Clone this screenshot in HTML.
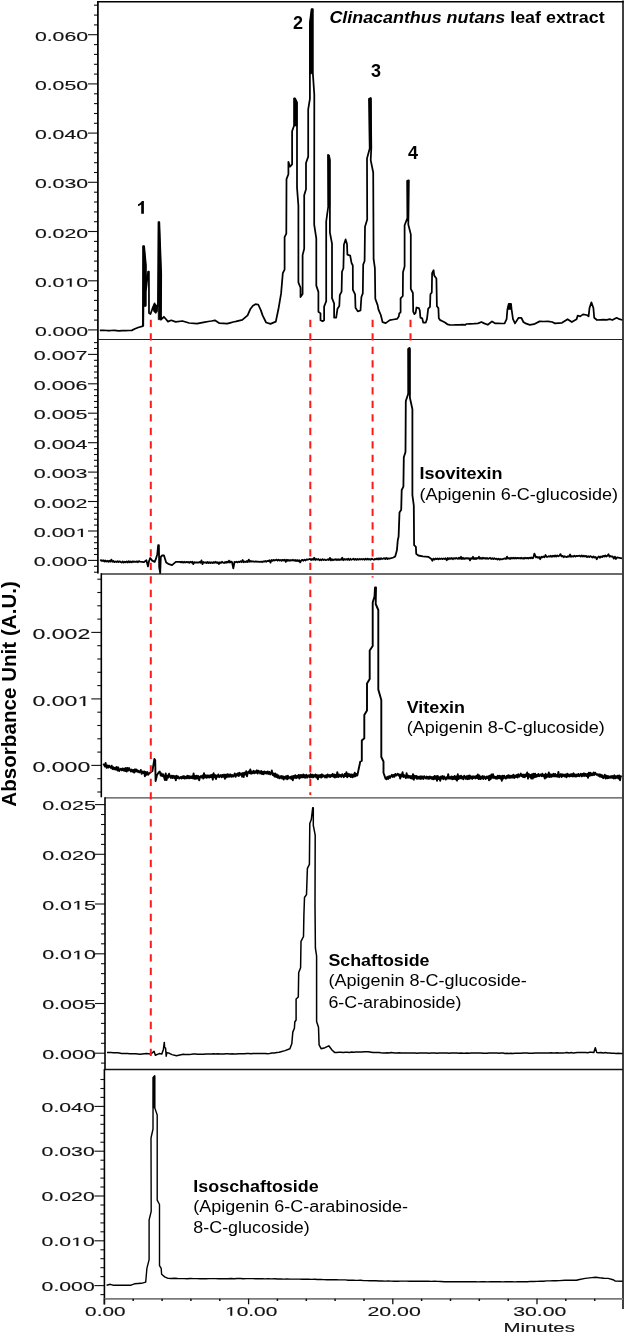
<!DOCTYPE html>
<html><head><meta charset="utf-8"><style>
html,body{margin:0;padding:0;background:#fff;overflow:hidden;width:625px;height:1333px;}
svg{display:block;will-change:transform;}
text{font-family:"Liberation Sans",sans-serif;}
</style></head><body>
<svg width="625" height="1333" viewBox="0 0 625 1333">
<rect width="625" height="1333" fill="#fff"/>
<line x1="94" y1="320.1" x2="98" y2="320.1" stroke="#111" stroke-width="1.1" />
<line x1="94" y1="310.3" x2="98" y2="310.3" stroke="#111" stroke-width="1.1" />
<line x1="94" y1="300.4" x2="98" y2="300.4" stroke="#111" stroke-width="1.1" />
<line x1="94" y1="290.6" x2="98" y2="290.6" stroke="#111" stroke-width="1.1" />
<line x1="94" y1="270.9" x2="98" y2="270.9" stroke="#111" stroke-width="1.1" />
<line x1="94" y1="261.1" x2="98" y2="261.1" stroke="#111" stroke-width="1.1" />
<line x1="94" y1="251.2" x2="98" y2="251.2" stroke="#111" stroke-width="1.1" />
<line x1="94" y1="241.4" x2="98" y2="241.4" stroke="#111" stroke-width="1.1" />
<line x1="94" y1="221.7" x2="98" y2="221.7" stroke="#111" stroke-width="1.1" />
<line x1="94" y1="211.9" x2="98" y2="211.9" stroke="#111" stroke-width="1.1" />
<line x1="94" y1="202" x2="98" y2="202" stroke="#111" stroke-width="1.1" />
<line x1="94" y1="192.2" x2="98" y2="192.2" stroke="#111" stroke-width="1.1" />
<line x1="94" y1="172.5" x2="98" y2="172.5" stroke="#111" stroke-width="1.1" />
<line x1="94" y1="162.7" x2="98" y2="162.7" stroke="#111" stroke-width="1.1" />
<line x1="94" y1="152.8" x2="98" y2="152.8" stroke="#111" stroke-width="1.1" />
<line x1="94" y1="143" x2="98" y2="143" stroke="#111" stroke-width="1.1" />
<line x1="94" y1="123.3" x2="98" y2="123.3" stroke="#111" stroke-width="1.1" />
<line x1="94" y1="113.5" x2="98" y2="113.5" stroke="#111" stroke-width="1.1" />
<line x1="94" y1="103.6" x2="98" y2="103.6" stroke="#111" stroke-width="1.1" />
<line x1="94" y1="93.8" x2="98" y2="93.8" stroke="#111" stroke-width="1.1" />
<line x1="94" y1="74.1" x2="98" y2="74.1" stroke="#111" stroke-width="1.1" />
<line x1="94" y1="64.3" x2="98" y2="64.3" stroke="#111" stroke-width="1.1" />
<line x1="94" y1="54.4" x2="98" y2="54.4" stroke="#111" stroke-width="1.1" />
<line x1="94" y1="44.6" x2="98" y2="44.6" stroke="#111" stroke-width="1.1" />
<line x1="94" y1="24.9" x2="98" y2="24.9" stroke="#111" stroke-width="1.1" />
<line x1="94" y1="15.1" x2="98" y2="15.1" stroke="#111" stroke-width="1.1" />
<line x1="94" y1="5.2" x2="98" y2="5.2" stroke="#111" stroke-width="1.1" />
<line x1="88" y1="329.9" x2="98" y2="329.9" stroke="#111" stroke-width="1.1" />
<text x="34.9" y="336.1" font-size="12.2" font-weight="normal" text-anchor="start" fill="#111" textLength="53.2" lengthAdjust="spacingAndGlyphs" stroke="#111" stroke-width="0.12" style="">0.000</text>
<line x1="88" y1="280.8" x2="98" y2="280.8" stroke="#111" stroke-width="1.1" />
<text x="34.9" y="286.9" font-size="12.2" font-weight="normal" text-anchor="start" fill="#111" textLength="53.2" lengthAdjust="spacingAndGlyphs" stroke="#111" stroke-width="0.12" style="">0.0 0</text>
<path d="M515,0 L696,0 L696,1409 L530,1409 L197,1180 L197,1010 L515,1237 Z" transform="translate(64.45 286.85) scale(0.01038 -0.00596)" fill="#111" stroke="#111" stroke-width="0.12" vector-effect="non-scaling-stroke"/>
<line x1="88" y1="231.5" x2="98" y2="231.5" stroke="#111" stroke-width="1.1" />
<text x="34.9" y="237.6" font-size="12.2" font-weight="normal" text-anchor="start" fill="#111" textLength="53.2" lengthAdjust="spacingAndGlyphs" stroke="#111" stroke-width="0.12" style="">0.020</text>
<line x1="88" y1="182.3" x2="98" y2="182.3" stroke="#111" stroke-width="1.1" />
<text x="34.9" y="188.4" font-size="12.2" font-weight="normal" text-anchor="start" fill="#111" textLength="53.2" lengthAdjust="spacingAndGlyphs" stroke="#111" stroke-width="0.12" style="">0.030</text>
<line x1="88" y1="133.1" x2="98" y2="133.1" stroke="#111" stroke-width="1.1" />
<text x="34.9" y="139.2" font-size="12.2" font-weight="normal" text-anchor="start" fill="#111" textLength="53.2" lengthAdjust="spacingAndGlyphs" stroke="#111" stroke-width="0.12" style="">0.040</text>
<line x1="88" y1="83.9" x2="98" y2="83.9" stroke="#111" stroke-width="1.1" />
<text x="34.9" y="90" font-size="12.2" font-weight="normal" text-anchor="start" fill="#111" textLength="53.2" lengthAdjust="spacingAndGlyphs" stroke="#111" stroke-width="0.12" style="">0.050</text>
<line x1="88" y1="34.7" x2="98" y2="34.7" stroke="#111" stroke-width="1.1" />
<text x="34.9" y="40.8" font-size="12.2" font-weight="normal" text-anchor="start" fill="#111" textLength="53.2" lengthAdjust="spacingAndGlyphs" stroke="#111" stroke-width="0.12" style="">0.060</text>
<line x1="94" y1="572.2" x2="98" y2="572.2" stroke="#111" stroke-width="1.1" />
<line x1="94" y1="566.3" x2="98" y2="566.3" stroke="#111" stroke-width="1.1" />
<line x1="94" y1="554.5" x2="98" y2="554.5" stroke="#111" stroke-width="1.1" />
<line x1="94" y1="548.6" x2="98" y2="548.6" stroke="#111" stroke-width="1.1" />
<line x1="94" y1="542.7" x2="98" y2="542.7" stroke="#111" stroke-width="1.1" />
<line x1="94" y1="536.9" x2="98" y2="536.9" stroke="#111" stroke-width="1.1" />
<line x1="94" y1="525.1" x2="98" y2="525.1" stroke="#111" stroke-width="1.1" />
<line x1="94" y1="519.2" x2="98" y2="519.2" stroke="#111" stroke-width="1.1" />
<line x1="94" y1="513.3" x2="98" y2="513.3" stroke="#111" stroke-width="1.1" />
<line x1="94" y1="507.4" x2="98" y2="507.4" stroke="#111" stroke-width="1.1" />
<line x1="94" y1="495.7" x2="98" y2="495.7" stroke="#111" stroke-width="1.1" />
<line x1="94" y1="489.8" x2="98" y2="489.8" stroke="#111" stroke-width="1.1" />
<line x1="94" y1="483.9" x2="98" y2="483.9" stroke="#111" stroke-width="1.1" />
<line x1="94" y1="478" x2="98" y2="478" stroke="#111" stroke-width="1.1" />
<line x1="94" y1="466.2" x2="98" y2="466.2" stroke="#111" stroke-width="1.1" />
<line x1="94" y1="460.3" x2="98" y2="460.3" stroke="#111" stroke-width="1.1" />
<line x1="94" y1="454.5" x2="98" y2="454.5" stroke="#111" stroke-width="1.1" />
<line x1="94" y1="448.6" x2="98" y2="448.6" stroke="#111" stroke-width="1.1" />
<line x1="94" y1="436.8" x2="98" y2="436.8" stroke="#111" stroke-width="1.1" />
<line x1="94" y1="430.9" x2="98" y2="430.9" stroke="#111" stroke-width="1.1" />
<line x1="94" y1="425" x2="98" y2="425" stroke="#111" stroke-width="1.1" />
<line x1="94" y1="419.1" x2="98" y2="419.1" stroke="#111" stroke-width="1.1" />
<line x1="94" y1="407.4" x2="98" y2="407.4" stroke="#111" stroke-width="1.1" />
<line x1="94" y1="401.5" x2="98" y2="401.5" stroke="#111" stroke-width="1.1" />
<line x1="94" y1="395.6" x2="98" y2="395.6" stroke="#111" stroke-width="1.1" />
<line x1="94" y1="389.7" x2="98" y2="389.7" stroke="#111" stroke-width="1.1" />
<line x1="94" y1="377.9" x2="98" y2="377.9" stroke="#111" stroke-width="1.1" />
<line x1="94" y1="372" x2="98" y2="372" stroke="#111" stroke-width="1.1" />
<line x1="94" y1="366.2" x2="98" y2="366.2" stroke="#111" stroke-width="1.1" />
<line x1="94" y1="360.3" x2="98" y2="360.3" stroke="#111" stroke-width="1.1" />
<line x1="94" y1="348.5" x2="98" y2="348.5" stroke="#111" stroke-width="1.1" />
<line x1="94" y1="342.6" x2="98" y2="342.6" stroke="#111" stroke-width="1.1" />
<line x1="88" y1="560.4" x2="98" y2="560.4" stroke="#111" stroke-width="1.1" />
<text x="33.8" y="566.4" font-size="12.1" font-weight="normal" text-anchor="start" fill="#111" textLength="53.7" lengthAdjust="spacingAndGlyphs" stroke="#111" stroke-width="0.12" style="">0.000</text>
<line x1="88" y1="531" x2="98" y2="531" stroke="#111" stroke-width="1.1" />
<text x="33.8" y="537" font-size="12.1" font-weight="normal" text-anchor="start" fill="#111" textLength="53.7" lengthAdjust="spacingAndGlyphs" stroke="#111" stroke-width="0.12" style="">0.00 </text>
<path d="M515,0 L696,0 L696,1409 L530,1409 L197,1180 L197,1010 L515,1237 Z" transform="translate(75.57 536.97) scale(0.01048 -0.00591)" fill="#111" stroke="#111" stroke-width="0.12" vector-effect="non-scaling-stroke"/>
<line x1="88" y1="501.5" x2="98" y2="501.5" stroke="#111" stroke-width="1.1" />
<text x="33.8" y="507.5" font-size="12.1" font-weight="normal" text-anchor="start" fill="#111" textLength="53.7" lengthAdjust="spacingAndGlyphs" stroke="#111" stroke-width="0.12" style="">0.002</text>
<line x1="88" y1="472.1" x2="98" y2="472.1" stroke="#111" stroke-width="1.1" />
<text x="33.8" y="478.1" font-size="12.1" font-weight="normal" text-anchor="start" fill="#111" textLength="53.7" lengthAdjust="spacingAndGlyphs" stroke="#111" stroke-width="0.12" style="">0.003</text>
<line x1="88" y1="442.7" x2="98" y2="442.7" stroke="#111" stroke-width="1.1" />
<text x="33.8" y="448.7" font-size="12.1" font-weight="normal" text-anchor="start" fill="#111" textLength="53.7" lengthAdjust="spacingAndGlyphs" stroke="#111" stroke-width="0.12" style="">0.004</text>
<line x1="88" y1="413.2" x2="98" y2="413.2" stroke="#111" stroke-width="1.1" />
<text x="33.8" y="419.2" font-size="12.1" font-weight="normal" text-anchor="start" fill="#111" textLength="53.7" lengthAdjust="spacingAndGlyphs" stroke="#111" stroke-width="0.12" style="">0.005</text>
<line x1="88" y1="383.8" x2="98" y2="383.8" stroke="#111" stroke-width="1.1" />
<text x="33.8" y="389.8" font-size="12.1" font-weight="normal" text-anchor="start" fill="#111" textLength="53.7" lengthAdjust="spacingAndGlyphs" stroke="#111" stroke-width="0.12" style="">0.006</text>
<line x1="88" y1="354.4" x2="98" y2="354.4" stroke="#111" stroke-width="1.1" />
<text x="33.8" y="360.4" font-size="12.1" font-weight="normal" text-anchor="start" fill="#111" textLength="53.7" lengthAdjust="spacingAndGlyphs" stroke="#111" stroke-width="0.12" style="">0.007</text>
<line x1="97.3" y1="792" x2="101.3" y2="792" stroke="#111" stroke-width="1.1" />
<line x1="97.3" y1="778.7" x2="101.3" y2="778.7" stroke="#111" stroke-width="1.1" />
<line x1="97.3" y1="752.1" x2="101.3" y2="752.1" stroke="#111" stroke-width="1.1" />
<line x1="97.3" y1="738.8" x2="101.3" y2="738.8" stroke="#111" stroke-width="1.1" />
<line x1="97.3" y1="725.5" x2="101.3" y2="725.5" stroke="#111" stroke-width="1.1" />
<line x1="97.3" y1="712.2" x2="101.3" y2="712.2" stroke="#111" stroke-width="1.1" />
<line x1="97.3" y1="685.6" x2="101.3" y2="685.6" stroke="#111" stroke-width="1.1" />
<line x1="97.3" y1="672.3" x2="101.3" y2="672.3" stroke="#111" stroke-width="1.1" />
<line x1="97.3" y1="659" x2="101.3" y2="659" stroke="#111" stroke-width="1.1" />
<line x1="97.3" y1="645.7" x2="101.3" y2="645.7" stroke="#111" stroke-width="1.1" />
<line x1="97.3" y1="619.1" x2="101.3" y2="619.1" stroke="#111" stroke-width="1.1" />
<line x1="97.3" y1="605.8" x2="101.3" y2="605.8" stroke="#111" stroke-width="1.1" />
<line x1="97.3" y1="592.5" x2="101.3" y2="592.5" stroke="#111" stroke-width="1.1" />
<line x1="97.3" y1="579.2" x2="101.3" y2="579.2" stroke="#111" stroke-width="1.1" />
<line x1="91.3" y1="765.4" x2="101.3" y2="765.4" stroke="#111" stroke-width="1.1" />
<text x="32.5" y="772.4" font-size="14.2" font-weight="normal" text-anchor="start" fill="#111" textLength="57.8" lengthAdjust="spacingAndGlyphs" stroke="#111" stroke-width="0.12" style="">0.000</text>
<line x1="91.3" y1="698.9" x2="101.3" y2="698.9" stroke="#111" stroke-width="1.1" />
<text x="32.5" y="705.9" font-size="14.2" font-weight="normal" text-anchor="start" fill="#111" textLength="57.8" lengthAdjust="spacingAndGlyphs" stroke="#111" stroke-width="0.12" style="">0.00 </text>
<path d="M515,0 L696,0 L696,1409 L530,1409 L197,1180 L197,1010 L515,1237 Z" transform="translate(77.45 705.90) scale(0.01128 -0.00693)" fill="#111" stroke="#111" stroke-width="0.12" vector-effect="non-scaling-stroke"/>
<line x1="91.3" y1="632.4" x2="101.3" y2="632.4" stroke="#111" stroke-width="1.1" />
<text x="32.5" y="639.4" font-size="14.2" font-weight="normal" text-anchor="start" fill="#111" textLength="57.8" lengthAdjust="spacingAndGlyphs" stroke="#111" stroke-width="0.12" style="">0.002</text>
<line x1="101" y1="1063.1" x2="105" y2="1063.1" stroke="#111" stroke-width="1.1" />
<line x1="101" y1="1043.3" x2="105" y2="1043.3" stroke="#111" stroke-width="1.1" />
<line x1="101" y1="1033.3" x2="105" y2="1033.3" stroke="#111" stroke-width="1.1" />
<line x1="101" y1="1023.4" x2="105" y2="1023.4" stroke="#111" stroke-width="1.1" />
<line x1="101" y1="1013.4" x2="105" y2="1013.4" stroke="#111" stroke-width="1.1" />
<line x1="101" y1="993.5" x2="105" y2="993.5" stroke="#111" stroke-width="1.1" />
<line x1="101" y1="983.6" x2="105" y2="983.6" stroke="#111" stroke-width="1.1" />
<line x1="101" y1="973.6" x2="105" y2="973.6" stroke="#111" stroke-width="1.1" />
<line x1="101" y1="963.7" x2="105" y2="963.7" stroke="#111" stroke-width="1.1" />
<line x1="101" y1="943.8" x2="105" y2="943.8" stroke="#111" stroke-width="1.1" />
<line x1="101" y1="933.9" x2="105" y2="933.9" stroke="#111" stroke-width="1.1" />
<line x1="101" y1="923.9" x2="105" y2="923.9" stroke="#111" stroke-width="1.1" />
<line x1="101" y1="914" x2="105" y2="914" stroke="#111" stroke-width="1.1" />
<line x1="101" y1="894.1" x2="105" y2="894.1" stroke="#111" stroke-width="1.1" />
<line x1="101" y1="884.2" x2="105" y2="884.2" stroke="#111" stroke-width="1.1" />
<line x1="101" y1="874.2" x2="105" y2="874.2" stroke="#111" stroke-width="1.1" />
<line x1="101" y1="864.3" x2="105" y2="864.3" stroke="#111" stroke-width="1.1" />
<line x1="101" y1="844.4" x2="105" y2="844.4" stroke="#111" stroke-width="1.1" />
<line x1="101" y1="834.4" x2="105" y2="834.4" stroke="#111" stroke-width="1.1" />
<line x1="101" y1="824.5" x2="105" y2="824.5" stroke="#111" stroke-width="1.1" />
<line x1="101" y1="814.5" x2="105" y2="814.5" stroke="#111" stroke-width="1.1" />
<line x1="95" y1="1053.2" x2="105" y2="1053.2" stroke="#111" stroke-width="1.1" />
<text x="42.2" y="1058.7" font-size="12.3" font-weight="normal" text-anchor="start" fill="#111" textLength="53.7" lengthAdjust="spacingAndGlyphs" stroke="#111" stroke-width="0.12" style="">0.000</text>
<line x1="95" y1="1003.5" x2="105" y2="1003.5" stroke="#111" stroke-width="1.1" />
<text x="42.2" y="1009" font-size="12.3" font-weight="normal" text-anchor="start" fill="#111" textLength="53.7" lengthAdjust="spacingAndGlyphs" stroke="#111" stroke-width="0.12" style="">0.005</text>
<line x1="95" y1="953.8" x2="105" y2="953.8" stroke="#111" stroke-width="1.1" />
<text x="42.2" y="959.3" font-size="12.3" font-weight="normal" text-anchor="start" fill="#111" textLength="53.7" lengthAdjust="spacingAndGlyphs" stroke="#111" stroke-width="0.12" style="">0.0 0</text>
<path d="M515,0 L696,0 L696,1409 L530,1409 L197,1180 L197,1010 L515,1237 Z" transform="translate(72.03 959.26) scale(0.01048 -0.00601)" fill="#111" stroke="#111" stroke-width="0.12" vector-effect="non-scaling-stroke"/>
<line x1="95" y1="904" x2="105" y2="904" stroke="#111" stroke-width="1.1" />
<text x="42.2" y="909.5" font-size="12.3" font-weight="normal" text-anchor="start" fill="#111" textLength="53.7" lengthAdjust="spacingAndGlyphs" stroke="#111" stroke-width="0.12" style="">0.0 5</text>
<path d="M515,0 L696,0 L696,1409 L530,1409 L197,1180 L197,1010 L515,1237 Z" transform="translate(72.03 909.54) scale(0.01048 -0.00601)" fill="#111" stroke="#111" stroke-width="0.12" vector-effect="non-scaling-stroke"/>
<line x1="95" y1="854.3" x2="105" y2="854.3" stroke="#111" stroke-width="1.1" />
<text x="42.2" y="859.8" font-size="12.3" font-weight="normal" text-anchor="start" fill="#111" textLength="53.7" lengthAdjust="spacingAndGlyphs" stroke="#111" stroke-width="0.12" style="">0.020</text>
<line x1="95" y1="804.6" x2="105" y2="804.6" stroke="#111" stroke-width="1.1" />
<text x="42.2" y="810.1" font-size="12.3" font-weight="normal" text-anchor="start" fill="#111" textLength="53.7" lengthAdjust="spacingAndGlyphs" stroke="#111" stroke-width="0.12" style="">0.025</text>
<line x1="100.4" y1="1294.6" x2="104.4" y2="1294.6" stroke="#111" stroke-width="1.1" />
<line x1="100.4" y1="1276.6" x2="104.4" y2="1276.6" stroke="#111" stroke-width="1.1" />
<line x1="100.4" y1="1267.7" x2="104.4" y2="1267.7" stroke="#111" stroke-width="1.1" />
<line x1="100.4" y1="1258.7" x2="104.4" y2="1258.7" stroke="#111" stroke-width="1.1" />
<line x1="100.4" y1="1249.8" x2="104.4" y2="1249.8" stroke="#111" stroke-width="1.1" />
<line x1="100.4" y1="1231.8" x2="104.4" y2="1231.8" stroke="#111" stroke-width="1.1" />
<line x1="100.4" y1="1222.9" x2="104.4" y2="1222.9" stroke="#111" stroke-width="1.1" />
<line x1="100.4" y1="1213.9" x2="104.4" y2="1213.9" stroke="#111" stroke-width="1.1" />
<line x1="100.4" y1="1205" x2="104.4" y2="1205" stroke="#111" stroke-width="1.1" />
<line x1="100.4" y1="1187" x2="104.4" y2="1187" stroke="#111" stroke-width="1.1" />
<line x1="100.4" y1="1178.1" x2="104.4" y2="1178.1" stroke="#111" stroke-width="1.1" />
<line x1="100.4" y1="1169.1" x2="104.4" y2="1169.1" stroke="#111" stroke-width="1.1" />
<line x1="100.4" y1="1160.2" x2="104.4" y2="1160.2" stroke="#111" stroke-width="1.1" />
<line x1="100.4" y1="1142.2" x2="104.4" y2="1142.2" stroke="#111" stroke-width="1.1" />
<line x1="100.4" y1="1133.3" x2="104.4" y2="1133.3" stroke="#111" stroke-width="1.1" />
<line x1="100.4" y1="1124.3" x2="104.4" y2="1124.3" stroke="#111" stroke-width="1.1" />
<line x1="100.4" y1="1115.4" x2="104.4" y2="1115.4" stroke="#111" stroke-width="1.1" />
<line x1="100.4" y1="1097.4" x2="104.4" y2="1097.4" stroke="#111" stroke-width="1.1" />
<line x1="100.4" y1="1088.5" x2="104.4" y2="1088.5" stroke="#111" stroke-width="1.1" />
<line x1="100.4" y1="1079.5" x2="104.4" y2="1079.5" stroke="#111" stroke-width="1.1" />
<line x1="94.4" y1="1285.6" x2="104.4" y2="1285.6" stroke="#111" stroke-width="1.1" />
<text x="41.6" y="1290.7" font-size="12.0" font-weight="normal" text-anchor="start" fill="#111" textLength="53.1" lengthAdjust="spacingAndGlyphs" stroke="#111" stroke-width="0.12" style="">0.000</text>
<line x1="94.4" y1="1240.8" x2="104.4" y2="1240.8" stroke="#111" stroke-width="1.1" />
<text x="41.6" y="1245.9" font-size="12.0" font-weight="normal" text-anchor="start" fill="#111" textLength="53.1" lengthAdjust="spacingAndGlyphs" stroke="#111" stroke-width="0.12" style="">0.0 0</text>
<path d="M515,0 L696,0 L696,1409 L530,1409 L197,1180 L197,1010 L515,1237 Z" transform="translate(71.10 1245.90) scale(0.01036 -0.00586)" fill="#111" stroke="#111" stroke-width="0.12" vector-effect="non-scaling-stroke"/>
<line x1="94.4" y1="1196" x2="104.4" y2="1196" stroke="#111" stroke-width="1.1" />
<text x="41.6" y="1201.1" font-size="12.0" font-weight="normal" text-anchor="start" fill="#111" textLength="53.1" lengthAdjust="spacingAndGlyphs" stroke="#111" stroke-width="0.12" style="">0.020</text>
<line x1="94.4" y1="1151.2" x2="104.4" y2="1151.2" stroke="#111" stroke-width="1.1" />
<text x="41.6" y="1156.3" font-size="12.0" font-weight="normal" text-anchor="start" fill="#111" textLength="53.1" lengthAdjust="spacingAndGlyphs" stroke="#111" stroke-width="0.12" style="">0.030</text>
<line x1="94.4" y1="1106.4" x2="104.4" y2="1106.4" stroke="#111" stroke-width="1.1" />
<text x="41.6" y="1111.5" font-size="12.0" font-weight="normal" text-anchor="start" fill="#111" textLength="53.1" lengthAdjust="spacingAndGlyphs" stroke="#111" stroke-width="0.12" style="">0.040</text>
<line x1="97.2" y1="1.8" x2="623.7" y2="1.8" stroke="#000" stroke-width="1.4" />
<line x1="623" y1="0.5" x2="623" y2="1309" stroke="#000" stroke-width="1.5" />
<line x1="97.9" y1="1.1" x2="97.9" y2="573.5" stroke="#000" stroke-width="1.7" />
<line x1="98" y1="339.5" x2="623" y2="339.5" stroke="#222" stroke-width="1.2" />
<line x1="101.3" y1="574" x2="623" y2="574" stroke="#3a3a3a" stroke-width="1.5" />
<line x1="101.3" y1="573.2" x2="101.3" y2="797.3" stroke="#000" stroke-width="1.6" />
<line x1="105" y1="797.9" x2="623" y2="797.9" stroke="#4a4a4a" stroke-width="1.3" />
<line x1="105" y1="797.3" x2="105" y2="1069.5" stroke="#000" stroke-width="1.6" />
<line x1="104.4" y1="1069.6" x2="623" y2="1069.6" stroke="#111" stroke-width="1.5" />
<line x1="104.4" y1="1069" x2="104.4" y2="1304.5" stroke="#000" stroke-width="1.6" />
<line x1="104.4" y1="1298.9" x2="623" y2="1298.9" stroke="#7a7a7a" stroke-width="1.7" />
<line x1="104.4" y1="1298.7" x2="104.4" y2="1304.3" stroke="#111" stroke-width="1.3" />
<line x1="133.2" y1="1298.7" x2="133.2" y2="1301" stroke="#111" stroke-width="1.5" />
<line x1="162.1" y1="1298.7" x2="162.1" y2="1301" stroke="#111" stroke-width="1.5" />
<line x1="190.9" y1="1298.7" x2="190.9" y2="1301" stroke="#111" stroke-width="1.5" />
<line x1="219.8" y1="1298.7" x2="219.8" y2="1301" stroke="#111" stroke-width="1.5" />
<line x1="248.6" y1="1298.7" x2="248.6" y2="1304.3" stroke="#111" stroke-width="1.3" />
<line x1="277.4" y1="1298.7" x2="277.4" y2="1301" stroke="#111" stroke-width="1.5" />
<line x1="306.3" y1="1298.7" x2="306.3" y2="1301" stroke="#111" stroke-width="1.5" />
<line x1="335.1" y1="1298.7" x2="335.1" y2="1301" stroke="#111" stroke-width="1.5" />
<line x1="364" y1="1298.7" x2="364" y2="1301" stroke="#111" stroke-width="1.5" />
<line x1="392.8" y1="1298.7" x2="392.8" y2="1304.3" stroke="#111" stroke-width="1.3" />
<line x1="421.6" y1="1298.7" x2="421.6" y2="1301" stroke="#111" stroke-width="1.5" />
<line x1="450.5" y1="1298.7" x2="450.5" y2="1301" stroke="#111" stroke-width="1.5" />
<line x1="479.3" y1="1298.7" x2="479.3" y2="1301" stroke="#111" stroke-width="1.5" />
<line x1="508.2" y1="1298.7" x2="508.2" y2="1301" stroke="#111" stroke-width="1.5" />
<line x1="537" y1="1298.7" x2="537" y2="1304.3" stroke="#111" stroke-width="1.3" />
<line x1="565.8" y1="1298.7" x2="565.8" y2="1301" stroke="#111" stroke-width="1.5" />
<line x1="594.7" y1="1298.7" x2="594.7" y2="1301" stroke="#111" stroke-width="1.5" />
<text x="85.1" y="1315.7" font-size="12.2" font-weight="normal" text-anchor="start" fill="#111" textLength="40.4" lengthAdjust="spacingAndGlyphs" stroke="#111" stroke-width="0.12" style="">0.00</text>
<text x="225.1" y="1315.7" font-size="12.2" font-weight="normal" text-anchor="start" fill="#111" textLength="52.2" lengthAdjust="spacingAndGlyphs" stroke="#111" stroke-width="0.12" style=""> 0.00</text>
<path d="M515,0 L696,0 L696,1409 L530,1409 L197,1180 L197,1010 L515,1237 Z" transform="translate(225.10 1315.70) scale(0.01019 -0.00596)" fill="#111" stroke="#111" stroke-width="0.12" vector-effect="non-scaling-stroke"/>
<text x="367.4" y="1315.7" font-size="12.2" font-weight="normal" text-anchor="start" fill="#111" textLength="53.5" lengthAdjust="spacingAndGlyphs" stroke="#111" stroke-width="0.12" style="">20.00</text>
<text x="513.2" y="1315.7" font-size="12.2" font-weight="normal" text-anchor="start" fill="#111" textLength="53.1" lengthAdjust="spacingAndGlyphs" stroke="#111" stroke-width="0.12" style="">30.00</text>
<text x="539.2" y="1332.1" font-size="12.6" font-weight="normal" text-anchor="middle" fill="#111" textLength="71.5" lengthAdjust="spacingAndGlyphs" stroke="#111" stroke-width="0.12" style="">Minutes</text>
<polyline points="99.8,330.4 103.4,330.3 107,330.5 110.6,330.5 114.2,330.4 119,330.9 122.2,330.7 125.4,330.6 128.6,330.5 131.8,330.4 135,328.8 138.2,327.5 142.9,326.2 143.1,246 144.1,246 145.9,265.4 145.7,305.8 144.6,305.8 145.2,296 146,290 148.1,271.7 148.9,271.7 149,313 150.5,314 152.4,308.7 154.6,303.4 155,309 155.8,305 156.5,310 157,306 157.9,306.3 158.5,222.1 159.3,222.1 161.2,274 161,319.7 163.9,316.8 165,318 168,321.6 171.2,320.3 175.7,321.9 182.4,321 189.1,323 197,323.7 204.8,322.1 208.2,321.5 211.5,321 214.9,320.3 219.4,323.2 227.2,323.7 230.2,322.8 233.2,322 236.2,321.4 242.3,319.8 247.6,315.4 250.2,309.3 252.9,305.7 255.5,304.2 258.2,304.5 260.8,310.1 262.6,315.4 266.1,322.5 270.5,323.9 275.8,321.6 278.4,309.3 281.1,293.4 282.8,273.2 284.6,269.6 284.6,237.1 286.3,233.6 286.5,179.1 288.4,174.2 288.4,161.8 290,166.7 292.1,164.3 292.1,131.3 294.1,125.5 294.1,98.3 295,98.3 297,102.4 297,187.4 298.4,205.8 298.4,282.4 300.5,287.7 300.5,297.1 302.6,294 302.6,255.1 304.2,248.8 304.2,195.3 306,189.2 306,163 308.2,156.6 308.2,109.4 309.9,98.9 309.9,22.3 311.6,9.1 312.8,9.1 312.8,72.6 314.3,94.7 314.2,224.7 316.3,238.3 316.3,285.6 318.4,291.9 318.4,311.8 320.5,313.4 320.5,320.3 322.6,321.3 324.1,320.3 324.1,306.6 326.2,301.3 326.2,221.5 328.3,206 328,154.9 329,155.5 329.9,160 329.9,232.5 332,243.6 332,298.2 334.1,303.4 334.1,317.6 336.2,317.7 337.5,308.7 339.3,306 339.8,295.2 341.6,291.6 342,271.8 343.4,268.2 343.9,244.8 345.6,239.4 347,243.9 347.4,254.7 350.2,255.6 351.5,262.8 352.8,265.5 352.9,289.8 355.1,294.3 355.5,307.8 357.8,311.4 360.5,310.5 361.4,297 362.8,293.4 363.2,264.6 364.6,261 365,226.8 367.2,219.6 367,158.5 369.9,147.8 369,98.8 370.8,98 371.3,147.8 370.7,160.1 373.2,172.5 373.6,259.2 374.9,268.2 375.3,298.8 377.6,305.1 378.5,309.6 380.8,315 382.6,322.2 385.7,323.1 389.8,320.1 393.4,319.5 397,318.9 398.8,316.5 399.2,313.5 400.6,312.3 400.6,298.4 402.8,296 403,272.3 404.6,266.5 404.6,225.3 407.5,217.9 407.2,180.8 408.8,180.3 408.3,224.5 410.8,234.4 410.8,288.8 412.9,293 413.2,311.7 414.4,314.1 415.6,312.9 416.5,307.5 418.9,308.1 419.8,310.5 420.4,317.7 422.2,318.3 423.2,322.5 425.8,322.5 427,318.9 428.2,308.7 430,306.9 430.4,294.2 431.8,292.4 432.1,273.2 433.6,270.2 434.2,275.6 436.4,278.6 436.9,306.3 438.4,308.1 438.8,318.3 440.2,320.1 442.6,321.3 445,322.5 447.4,324.3 449.8,324.9 452.9,325 456,324.8 459.2,324.9 462.3,324.7 465.4,324.8 466.2,324 470.1,323.8 474.1,323.7 478,323.4 481.4,322 484.2,323.4 487.8,324.8 492,321.4 495.4,323.4 498.5,323.3 501.5,323.5 504.6,323.4 506.6,319.2 507.4,309.4 508.8,303.8 511,303.8 511.6,309.4 513,319.2 515,323.4 518.6,317.8 521.4,317.8 523.4,322 525.6,323.4 529.8,324.8 534,324.2 539.6,321.4 543.8,321.5 548,321.4 552.2,322 555,323.4 562,322.8 567.6,319.2 571.8,322 576.6,319.2 577.7,315.6 580.2,316.4 583,314.4 586.7,315 588.6,316.4 589.5,308 591.4,302.4 593.4,308 594.2,317.8 597,320 600.3,319.8 603.5,319.7 606.8,319.8 609.6,319.2 612.4,320 616.6,317.8 619.4,319.2 622.5,320" fill="none" stroke="#000" stroke-width="1.75" stroke-linejoin="round" stroke-linecap="butt" />
<polygon points="142.9,326 143.1,246 144.1,246 145.9,265.4 145.9,305.8 144,305.8 143.7,326" fill="#000" stroke="#000" stroke-width="0.6" stroke-linejoin="round"/>
<polygon points="158.2,319.7 158.5,222.1 159.3,222.1 161.2,274 161,319.7" fill="#000" stroke="#000" stroke-width="0.6" stroke-linejoin="round"/>
<polygon points="152.5,309 154.6,303.4 155.5,305 157.7,306.3 157.7,311 156,313.5 154,312" fill="#000" stroke="#000" stroke-width="0.6" stroke-linejoin="round"/>
<polygon points="294.1,126 294.1,98.3 295,98.3 297,102.4 297,126" fill="#000" stroke="#000" stroke-width="0.6" stroke-linejoin="round"/>
<polygon points="309.9,74 309.9,22.3 311.6,9.1 312.8,9.1 312.8,72.6 311.5,74" fill="#000" stroke="#000" stroke-width="0.6" stroke-linejoin="round"/>
<polygon points="328,206 328,154.9 329,155.5 329.9,160 329.9,206" fill="#000" stroke="#000" stroke-width="0.6" stroke-linejoin="round"/>
<polygon points="369.2,148 369,99 370.8,98 371.3,99 371.3,148" fill="#000" stroke="#000" stroke-width="0.6" stroke-linejoin="round"/>
<polygon points="507.6,309.4 508.6,303.8 511,303.8 511.4,309.4" fill="#000" stroke="#000" stroke-width="0.6" stroke-linejoin="round"/>
<polygon points="407.2,218 407.2,181 408.8,180.3 408.6,218" fill="#000" stroke="#000" stroke-width="0.6" stroke-linejoin="round"/>
<polyline points="100.1,560.7 101.1,560.1 102.1,561 103.2,560.3 104.2,561.5 105.2,560.5 106.2,561.6 107.3,560.8 108.3,561.8 109.3,560.6 110.3,561.7 111.4,559.6 112.4,561.8 113.4,560.9 114.4,562.1 115.5,561.5 116.5,562 117.5,561.1 118.5,562.1 119.6,561.3 120.6,562 121.6,562.6 122.6,561.4 123.7,562.6 124.7,561.7 125.7,562.4 126.7,561.4 127.7,562.5 128.8,561.2 129.8,562.4 130.8,561.4 131.8,562.4 132.9,561.3 133.9,562.1 134.9,561.5 135.9,562 136.9,561.3 138,562.2 139,561.2 140,561.6 143.8,562.2 146.4,560.3 148,566.4 149,561.2 150.2,558 152.2,560.6 154.7,561.9 156,558.7 157.3,554.2 158.2,545.2 158.9,545.2 159.2,567 160.2,573 160.8,556.8 162.1,555.5 164,555.5 165,558.7 166.2,562.5 168.2,563.8 172,565.1 175.8,561.9 180,561.9 181,562.4 182,561.7 183.1,562.7 184.1,561.8 185.1,562.6 186.1,561.9 187.2,562.3 188.2,561.9 189.2,562.8 190.2,561.8 191.3,562.6 192.3,561.7 193.3,564.1 194.3,562.1 195.4,562.6 196.4,562.3 197.4,562.5 198.4,562.7 199.4,561.9 200.5,562.8 201.5,560.4 202.5,564.2 203.5,562 204.6,562.7 205.6,562.3 206.6,563.1 207.6,561.9 208.7,563.1 209.7,562.1 210.7,563 211.7,562.3 212.8,563.1 213.8,562 214.8,562.9 215.8,561.8 216.9,563 217.9,562.3 218.9,564 219.9,562.3 221,563 222,561.8 223,562.5 224,563.1 225,562 226,562.8 227,561.7 228,562.5 229,560.6 230,562.5 231,561.5 232,562 233.3,568.4 234.5,562 235.5,562.2 236.6,561.7 237.6,562.4 238.6,561.6 239.6,562.1 240.7,561.2 241.7,562.2 242.7,560 243.7,562.2 244.8,561.5 245.8,562.1 246.8,561 247.8,562 248.8,559.7 249.9,561.8 250.9,561 251.9,561.7 252.9,561.2 254,561.8 255,561.5 260.2,561.9 261.2,561.6 262.3,562 263.3,561.3 264.3,561.7 265.3,560.9 266.4,561.7 267.4,560.8 268.4,561.1 269.4,560.3 270.5,562.6 271.5,560 272.5,560.9 273.5,559.9 274.6,560.5 275.6,560.1 276.6,559.7 277.6,560.7 278.7,559.6 279.7,560.5 280.7,559.9 281.7,560.7 282.8,559.8 283.8,560.5 284.8,559.6 285.8,561.9 286.9,559.7 287.9,560.8 288.9,560 289.9,560.9 291,560 292,560.6 293,559.8 294,560.7 295.1,559.9 296.1,561.1 297.1,560 298.1,561.2 299.2,560.1 300.2,562.4 301.2,560.6 302.3,559.8 303.4,560.7 304.5,559.7 305.6,560.5 306.7,559.3 307.8,559.8 308.9,559.3 310,558.8 311,560 312.1,558.9 313.1,559.9 314.2,557.7 315.2,560 316.3,559 317.3,559.7 318.4,559 319.4,560.2 320.5,559.4 321.5,560.2 322.6,559.1 323.6,560 324.7,559.5 325.7,560.2 326.8,559.8 327.8,559.3 328.8,560 329.9,557.9 330.9,560.3 331.9,559.1 332.9,560.2 334,559.4 335,559.8 336,559.1 337,560.2 338.1,559.2 339.1,560.1 340.1,559.3 341.1,559.9 342.2,557.7 343.2,560.2 344.2,559 345.2,559.8 346.3,559.1 347.3,559.8 348.3,558.7 349.3,560 350.4,558.8 351.4,559.8 352.4,559.3 353.4,558.7 354.4,559.8 355.5,558.9 356.5,559.9 357.5,559 358.5,559.7 359.6,559 360.6,559.5 361.6,558.9 362.6,559.6 363.7,558.9 364.7,559.7 365.7,558.7 366.8,559.7 367.8,558.6 368.8,559.5 369.8,559 370.8,559.7 371.9,558.7 372.9,559.3 373.9,559.8 374.9,558.8 376,559.4 377,558.4 378,559.5 379,558.3 380,559.4 381.1,558.2 382.1,559 383.1,558.6 384.2,558.1 385.2,559 386.3,557.9 387.4,559 388.4,558.3 389.5,558.6 393.4,557.5 395.2,556.4 396.9,550.3 397.8,540 398.6,536.6 399.5,512.4 401.2,509.8 401.7,490 403.4,486.6 403.8,457.2 405.5,452 405.8,401 408.3,393.6 408.2,349 409.5,347.9 409.9,349 409.9,397.8 412.4,409.3 412.4,495.2 413.8,505.5 414.1,545.2 415.9,546.9 416.2,553.8 418.4,555.5 422.8,556.4 428.2,556.8 431.4,559 432.4,560.7 433.4,558.6 434.5,559.6 435.5,558.5 436.5,559.2 437.5,558.5 438.6,559.3 439.6,558.5 440.6,559 441.6,558.5 442.7,559.1 443.7,558.4 444.7,559 445.7,558.3 446.8,560.2 447.8,558 448.8,559.2 449.8,558.1 450.9,558.9 451.9,558 452.9,559.2 453.9,558.1 455,558.8 456,557.9 457,558.4 458,558.8 459,557.7 460,558.8 461,556.8 462,559.1 463,557.7 464,559.1 465,558.1 466,558.6 467,558.1 468,558.6 469,558.2 470,560.4 471,558.1 472,558.9 473,556.8 474,559.1 475,558 476,559 477,558 478,558.6 479,556.8 480,558.8 481,557.8 482,558.9 483,557.7 484,558.6 485,557.9 486,558.8 487,558 488,558.8 489,558.4 490.1,557.9 491.1,559 492.2,558.1 493.3,559 494.3,558.2 495.4,559 496.5,558.7 497.5,559.5 498.6,558.6 499.7,559.7 500.7,559 501.8,559.3 505,558.4 506,559 507,556.7 508,558.6 509,557.9 510,559 511,557.7 512,558.6 513.1,557.7 514.1,558.6 515.1,557.8 516.1,558.6 517.1,557.8 518.1,558.4 519.1,557.9 520.1,558.5 521.1,557.7 522.1,558.6 523.1,557.9 524.1,558.7 525.1,557.7 526.2,558.4 527.2,557.8 528.2,558.5 529.2,557.6 530.2,558.4 531.2,557.5 532.2,558.3 533.2,558 534.4,553.6 536,557.4 537.1,556.8 538.1,557.8 539.2,557 540.2,559.2 541.3,556.8 542.4,557.4 543.4,556.4 544.5,557.3 545.5,555 546.6,556.8 547.7,556.9 548.7,556.1 549.8,556.7 550.9,555.8 551.9,556.8 553,555.6 554.1,556.5 555.1,555.5 556.2,556.6 557.3,555.5 558.3,556.3 559.4,555.8 560.5,554.1 561.5,556.4 562.6,555.9 563.7,557.2 564.7,556.2 565.8,556.8 566.9,557 567.9,556.2 569,556.7 570.1,554.5 571.1,556.8 572.2,556.1 573.3,556.7 574.3,555.7 575.4,556.6 576.5,555.8 577.5,556.1 578.6,555.8 579.7,555.6 580.7,556.5 581.8,555.4 582.9,556.6 583.9,555.7 585,556.5 586.1,555.9 587.1,557.1 588.2,556.2 589.3,557.1 590.3,556.1 591.4,556.8 592.5,557.6 593.5,556.4 594.6,557.5 595.7,557 596.7,559.2 597.8,557.4 598.9,556.5 599.9,557.7 601,556.4 602.1,557.1 603.1,555.9 604.2,556.5 605.3,555.5 606.3,556.5 607.4,555.8 608.5,554.3 609.5,556.7 610.6,556 611.7,556.7 612.7,556.5 613.8,558.6 614.9,556.6 615.9,559 617,557.4 622,558.4" fill="none" stroke="#000" stroke-width="1.8" stroke-linejoin="round" stroke-linecap="butt" />
<polygon points="408.2,394 408.2,349 409.5,347.9 409.9,349 409.9,394" fill="#000" stroke="#000" stroke-width="0.6" stroke-linejoin="round"/>
<polyline points="103,765 103.9,764.4 104.8,766.5 105.6,763 106.5,767.7 107.4,765.4 108.2,767.7 109.1,765.6 110,767 110.8,767.9 111.7,765.7 112.5,769.1 113.3,767.2 114.2,769.3 115,767.7 115.8,769.6 116.7,766.9 117.5,770.6 118.3,767.4 119.2,771 120,769.4 120.8,768.8 121.7,770.3 122.5,768.4 123.3,770.5 124.2,768.6 125,771 125.8,768 126.7,771.6 127.5,768 128.3,770.6 129.2,768.1 130,770 130.8,771.4 131.7,769.5 132.5,771.7 133.3,769.9 134.2,772.6 135,769.2 135.8,771.6 136.7,769.5 137.5,771.8 138.3,770.8 139.2,772.4 140,771.6 140.8,769.9 141.6,773.9 142.5,771.5 143.3,772.9 144.1,771.4 144.9,776.3 145.7,771.9 146.5,774.8 147.4,772.1 148.2,774.8 149,773.6 152.4,771 154.4,759 155.2,760 155.6,781 157,775 159,772 159.8,771.6 160.7,775.5 161.5,773.4 162.3,776.2 163.2,774.3 164,777 164.9,780.1 165.7,773.5 166.6,780.1 167.4,775.5 168.3,777.6 169.1,773.7 170,776.4 170.8,777.9 171.7,775.7 172.5,778 173.3,775.8 174.2,777.9 175,776.1 175.8,780.4 176.7,775.7 177.5,778.1 178.3,776.6 179.2,778.6 180,777.6 180.8,776.9 181.6,778.5 182.4,776.4 183.2,778.2 184,776.1 184.8,778.6 185.6,776.8 186.4,778.2 187.2,775.7 188,778.3 188.8,775.9 189.6,778.3 190.4,776.4 191.2,778.1 192,776.2 192.8,778.3 193.6,773.5 194.4,778.9 195.2,776 196,778.9 196.8,775.6 197.6,778.5 198.4,776.1 199.2,780.3 200,777 200.8,776.1 201.6,777.5 202.4,775.4 203.2,778.6 204,773.3 204.8,777.5 205.6,775.3 206.4,777.8 207.2,775.3 208,777.5 208.8,775.4 209.6,777.5 210.4,775.2 211.2,777.2 212,774.6 212.8,779.7 213.6,773.3 214.4,777.2 215.2,775.1 216,779 216.8,775.5 217.6,776.7 218.4,774.4 219.2,777.2 220,776 220.8,775 221.6,777.3 222.5,774.9 223.3,776.8 224.1,774.6 224.9,778.7 225.7,774.8 226.5,777.4 227.4,774.1 228.2,776.8 229,774.5 229.8,776.7 230.6,774.5 231.4,776.8 232.3,775 233.1,776.6 233.9,775.5 234.7,773.5 235.5,776.9 236.4,774.1 237.2,775.5 238,773.2 238.8,776.1 239.6,772.8 240.4,774.8 241.3,773.5 242.1,776.7 242.9,773 243.7,777.1 244.5,772.7 245.3,774.6 246.2,771.2 247,776.4 247.8,772.7 248.6,771.4 249.5,773.2 250.3,769.5 251.1,773.8 251.9,771.6 252.8,773.2 253.6,770.8 254.4,773.3 255.3,771.3 256.1,772.8 256.9,770.3 257.7,773.6 258.6,770.6 259.4,772 260.2,773.5 261.1,771 261.9,774 262.7,771.7 263.5,774.2 264.4,771.4 265.2,773.4 266,771.9 266.9,773.7 267.7,771.4 268.5,773.9 269.3,772 270.2,774.4 271,773.2 271.8,770.4 272.7,775.1 273.5,773.4 274.4,776.5 275.2,773.4 276.1,777 276.9,774.5 277.8,777.8 278.6,775.5 279.5,778.4 280.3,777.8 281.1,775.9 282,778.5 282.8,776.2 283.7,779.5 284.5,776.8 285.4,778.4 286.2,776.1 287.1,779.3 287.9,775.8 288.8,778.5 289.6,777.4 290.4,776.7 291.2,778.9 292,776.2 292.8,780.2 293.6,776 294.5,777.8 295.3,775.1 296.1,778.2 296.9,776 297.7,777.4 298.5,775 299.3,778.5 300.1,775 300.9,777.5 301.7,775.1 302.5,777.3 303.3,774.5 304.2,777.6 305,775.1 305.8,777.7 306.6,774.8 307.4,777.5 308.2,776 309,775.2 309.8,777.4 310.6,774.2 311.4,777 312.2,774.7 313.1,777.4 313.9,775.1 314.7,776.6 315.5,774.4 316.3,777.5 317.1,775.1 317.9,779.2 318.7,775.2 319.5,777 320.3,774.9 321.2,777.6 322,774.3 322.8,776.9 323.6,775.3 324.4,776 325.2,777.5 326,775.2 326.8,777.5 327.6,774.4 328.4,776.6 329.3,775.1 330.1,777.1 330.9,775 331.7,776.3 332.5,774 333.3,776.8 334.1,774.4 334.9,777.6 335.7,774.8 336.5,776.9 337.3,772.1 338.1,777.1 339,774.4 339.8,776.4 340.6,775 341.4,776.9 342.2,774.2 343,775.5 343.8,777.2 344.7,773.9 345.5,776.1 346.4,772.2 347.2,777.3 348,773.8 348.9,776.2 349.7,774.2 350.6,777 351.4,774.5 352.3,777.3 353.1,774.4 353.9,776.7 354.8,772.6 355.6,776.2 356.5,774 357.3,775.5 360.3,761.5 361.8,760.8 361.8,740.5 364.3,738.3 364.3,715 367,710.5 367,683.5 369.7,679 369.7,650.5 372.7,646 372.7,602.5 374.5,596.5 375,587.5 376,587.5 375.7,604 378.3,610 378.3,689.5 381.3,700 381.3,757 383.5,761.5 383.5,772.8 385.5,778.6 386.4,779.3 387.3,776.8 388.2,778.9 389.2,776.1 390.1,777.9 391,776 391.9,774.8 392.7,776.9 393.6,774.9 394.4,776.8 395.3,773.9 396.1,775.6 397,774.6 397.8,773.7 398.6,775.5 399.4,774.5 400.2,778.6 401,774.5 401.8,776.4 402.6,772.3 403.4,777 404.2,775.2 405,776.6 405.8,778 406.6,773.2 407.4,777.6 408.2,775.6 409,777.7 409.8,775.9 410.6,778.2 411.4,776.2 412.2,778.7 413,774.1 413.8,779.7 414.6,775.6 415.4,777.8 416.2,775.9 417,778.9 417.8,776.6 418.6,778.5 419.4,776.6 420.2,778.9 421,776.2 421.8,778.7 422.6,776.6 423.4,778.9 424.2,776.1 425,777.4 425.8,778.4 426.6,776.6 427.4,778.6 428.2,776.8 429,778.9 429.8,776.5 430.6,778.3 431.4,777.1 432.2,779.2 433,777 433.8,779.3 434.6,776 435.4,778.8 436.2,776.2 437,780.9 437.8,775.9 438.6,779.1 439.4,777.2 440.2,780.7 441,776.5 441.8,778.4 442.6,776.1 443.4,779.2 444.2,776.4 445,778 445.8,779.6 446.6,777.2 447.4,778.5 448.2,774.2 449,778.7 449.8,777.2 450.6,778.6 451.4,776.4 452.2,779.3 453,776.8 453.8,778.9 454.6,776 455.4,779.3 456.2,776.4 457,780.7 457.8,774.3 458.6,779.1 459.4,776.2 460.2,778.3 461,775.6 461.8,778.6 462.6,776.7 463.4,779.3 464.2,775.7 465,777.4 465.8,778.8 466.6,776.1 467.4,779.2 468.2,775.6 469,779 469.8,775.5 470.6,778.3 471.4,776.6 472.2,778.9 473,776.2 473.8,778 474.6,776.5 475.4,778.4 476.2,775.9 477,778 477.8,774.5 478.6,779 479.4,775.5 480.2,779.1 481,776.7 481.8,778.5 482.6,776.1 483.4,779.1 484.2,776.3 485,777.4 485.8,779 486.6,776.6 487.4,777.9 488.2,776.2 489,780.3 489.8,775.8 490.6,779.3 491.4,774.5 492.2,777.9 493,774.1 493.8,778 494.6,776.6 495.4,778.5 496.2,776.8 497,778.8 497.8,775.6 498.6,778.2 499.4,775.8 500.2,778.6 501,776.1 501.8,780.8 502.6,775.6 503.4,778.6 504.2,775.6 505,777.4 505.8,778.6 506.7,776 507.5,777.8 508.3,775.1 509.2,777.9 510,775.6 510.8,777.8 511.7,775.8 512.5,777.6 513.3,774.6 514.2,778 515,775.5 515.8,777.2 516.7,775 517.5,777.5 518.3,774.2 519.2,776.7 520,775.4 520.8,773.6 521.6,776.2 522.4,774.7 523.2,777.1 524,774.6 524.8,777.3 525.6,774.4 526.4,776.1 527.2,772.5 528,778.7 528.8,773.9 529.6,776.9 530.4,775 531.2,778.5 532,774.3 532.8,778.5 533.6,773.7 534.4,777.3 535.2,773.7 536,777 536.8,775 537.6,776.3 538.4,773.9 539.2,776.2 540,775.6 540.8,774.4 541.6,776.2 542.4,773.7 543.2,776.3 544,774.9 544.8,778.5 545.6,773.8 546.4,777.5 547.2,774.6 548,776.8 548.8,772.5 549.6,777.1 550.4,774.3 551.2,776.9 552,774.4 552.8,776.4 553.6,773.8 554.4,776.4 555.2,773.9 556,776.5 556.8,775 557.6,776.7 558.4,772 559.2,777.2 560,775.6 560.8,774.1 561.6,777.1 562.4,774.3 563.2,776.2 564,774.5 564.8,776.5 565.6,774.4 566.4,777.3 567.2,773.7 568,776.3 568.8,774.5 569.6,776.5 570.4,774.3 571.2,776.2 572,774.1 572.8,776.5 573.6,773.3 574.4,776.3 575.2,774.5 576,776.8 576.8,774.5 577.6,776.1 578.4,774 579.2,776.3 580,775 580.8,773.8 581.6,776.4 582.4,773.9 583.2,775.9 584,773.3 584.8,776 585.6,773.8 586.4,776 587.2,773.9 588,777.8 588.8,772.7 589.6,775.9 590.4,772.7 591.2,775.4 592,773.6 592.8,775.2 593.6,772.4 594.4,774.9 595.2,772.7 596,774 596.8,774.9 597.6,774.2 598.4,775.8 599.2,774.3 600,776.8 600.8,774.6 601.6,777 602.4,775.3 603.2,778.2 604,777.4 604.8,774.7 605.6,778.5 606.4,775.6 607.2,778.3 608,776 608.8,778.1 609.6,776.6 610.4,777.8 611.2,776 612,777.8 612.8,776 613.6,778.4 614.4,775.3 615.2,778.4 616,776.2 616.8,777.8 617.6,775.7 618.4,778.6 619.2,775.4 620,780.2 620.8,776.1 621.6,777" fill="none" stroke="#000" stroke-width="1.9" stroke-linejoin="round" stroke-linecap="butt" />
<polyline points="107,1052.4 109.1,1052.4 111.1,1052.5 113.2,1052.7 115.2,1052.7 117.3,1052.8 119.4,1053 121.4,1053.4 123.5,1053.4 125.6,1053.5 127.6,1053.4 129.7,1053.7 131.8,1053.7 133.8,1053.7 135.9,1053.8 137.9,1054 140,1054.2 146.4,1053.6 150.9,1053.9 154.1,1051.4 155.4,1055.2 159.2,1053.6 161.8,1053.9 163.4,1049.4 164.3,1042.4 164.6,1047.5 165.6,1048.2 166.2,1056.2 166.9,1052.6 169.4,1053.3 172,1054.6 176.5,1055.8 183.2,1054.3 185.2,1054.4 187.3,1054.4 189.3,1054.4 191.3,1054.3 193.4,1054.1 195.4,1054.1 197.5,1054.2 199.5,1054.2 201.5,1054.2 203.6,1054.2 205.6,1053.9 207.6,1054.1 209.7,1054.1 211.7,1054 213.7,1053.8 215.8,1053.9 217.8,1053.7 219.9,1054.1 221.9,1054 223.9,1053.9 226,1053.7 228,1053.8 230.1,1053.9 232.2,1053.8 234.2,1053.9 236.3,1053.9 238.4,1053.7 240.5,1053.7 242.6,1053.7 244.6,1053.7 246.7,1053.5 248.8,1053.6 250.9,1053.8 253,1053.4 255,1053.4 257.1,1053.6 259.2,1053.5 261.3,1053.6 263.4,1053.5 265.4,1053.5 267.5,1053.7 269.6,1053.5 272,1053.1 274.4,1052.9 276.8,1052.5 279.2,1052.3 285,1050.6 289.9,1048.7 291.8,1043.8 292.8,1032.1 294.4,1028.2 294.8,1022 296.1,1020 296.1,999 298.3,997 298.7,972.6 300.6,967.7 301,941.4 303.5,936.5 303.9,915.1 304.5,897.5 306.5,894.6 307.4,868.3 309.4,864.4 309.8,823.4 311.3,819.5 312.7,807.8 313.3,807.8 313.3,825.4 315.2,835.1 315,905.3 315.4,948.2 316.6,956 316.6,1021.4 318.5,1027.2 319.1,1044.8 321.1,1048.7 325,1047.7 328.8,1045.8 332.2,1050.2 334.6,1052.4 336.7,1052.4 338.9,1052.3 341,1052.3 343.1,1052.4 345.3,1052.2 347.4,1052.3 349.5,1052.4 351.7,1052.1 353.8,1052.2 355.9,1052 357.9,1051.9 360,1052.1 362,1052 364.1,1051.7 366.1,1051.7 368.2,1051.7 373,1052.6 375,1052.5 377,1052.6 379,1052.5 381,1052.8 383,1052.9 385,1052.9 387,1052.8 389,1053 391,1052.6 393,1052.7 395,1053 397,1053 399,1052.8 401,1053.1 403,1053 405,1053.1 407,1052.9 409,1052.9 411,1053 413,1052.9 415,1053 417,1053.2 419,1053 421,1053.1 423,1052.9 425,1052.9 427,1053 429,1053.2 431,1053.1 433,1053 435,1053 437,1053.3 439,1053.1 441,1053 443,1052.9 445,1052.9 447,1053 449,1053.2 451,1053 453,1052.9 455,1053.1 457,1053 459,1053.3 461,1053 463,1053.2 465,1053.3 467,1053.1 469,1053.3 471,1053.1 473,1053.1 475,1053.1 477,1053 479,1053.1 481,1053.1 483,1053.3 485,1053.3 487,1053.2 489,1053 491,1053.1 493,1053.1 495,1053.1 497,1053.1 499,1053.3 501,1053 503,1053 505,1053.4 507,1053.2 509,1053.4 511,1053.2 513,1053.4 515,1053.3 517,1053.2 519,1053.3 521,1053.3 523,1053.1 525,1053 527,1053 529,1053.2 531,1053.2 533,1053.2 535,1053 537,1053.1 539,1053.1 541,1053.1 543,1053.1 545,1053 547,1053 549,1053 551,1052.8 553,1053.1 555,1053.1 557,1052.7 559,1053 561,1053 563,1052.9 565,1052.8 567.1,1052.6 569.1,1052.9 571.2,1052.6 573.2,1052.9 575.3,1052.7 577.3,1052.5 579.4,1052.5 581.5,1052.6 583.5,1052.6 585.6,1052.6 587.6,1052.7 589.7,1052.3 591.7,1052.2 593.8,1052.4 595.3,1047.8 596.7,1052.4 598.9,1052.7 601,1052.4 603.2,1052.9 605.3,1052.6 607.5,1053 609.7,1053.1 611.8,1053.3 614,1053.2 616.1,1053.5 618.3,1053.3 620.4,1053.6 622.6,1053.6" fill="none" stroke="#000" stroke-width="1.5" stroke-linejoin="round" stroke-linecap="butt" />
<polyline points="106.6,1285.2 110.3,1284.3 112.9,1285.2 115.9,1285.2 118.9,1285.3 122,1285.3 125,1285.3 128,1285.3 131,1285.2 134.5,1283.8 141.4,1283.3 145.7,1282.1 146.9,1268.3 149.1,1259.7 149.1,1220 151.2,1211.4 151,1138 153,1129 153.1,1077.5 154.7,1075.8 154.7,1107.6 157.2,1115 157.2,1200.2 159.5,1204.5 159.5,1265.7 161.2,1268.3 161.6,1274.3 164.7,1276.9 168.1,1278.4 171.3,1278.5 174.5,1278.3 177.7,1278.5 180.9,1278.6 184.1,1278.6 187.2,1278.7 190.4,1278.5 193.6,1278.6 196.8,1278.6 200,1278.7 203.1,1278.7 206.2,1278.7 209.3,1278.6 212.4,1278.6 215.5,1278.6 218.6,1278.8 221.7,1278.7 224.8,1278.6 227.9,1278.7 231,1278.5 234.1,1278.7 237.2,1278.5 240.3,1278.5 243.4,1278.7 246.5,1278.6 249.6,1278.6 252.7,1278.6 255.8,1278.8 259,1278.8 262.1,1278.7 265.2,1278.9 268.3,1278.8 271.4,1278.9 274.5,1278.8 277.7,1279 280.8,1279 283.9,1279.1 287,1279 290.1,1279.1 293.1,1279.1 296.2,1279.1 299.3,1279.1 302.3,1279.2 305.4,1279.2 308.5,1279.3 311.5,1279.4 314.6,1279.3 317.7,1279.5 320.7,1279.5 323.8,1279.6 326.9,1279.7 329.9,1279.7 333,1279.7 336.1,1279.8 339.1,1279.9 342.2,1279.9 345.3,1279.9 348.3,1280.2 351.4,1280.1 354.5,1280.3 357.5,1280.4 360.6,1280.3 363.7,1280.6 366.7,1280.6 369.8,1280.7 372.9,1280.7 375.9,1280.8 379,1281 382.1,1280.9 385.1,1281.1 388.2,1281 391.3,1281.1 394.3,1281.2 397.4,1281.2 400.5,1281.1 403.5,1281.1 406.6,1281.1 409.7,1281.2 412.7,1281.1 415.8,1281.2 418.9,1281.2 421.9,1281.3 425,1281.2 428.2,1281.1 431.4,1281.4 434.6,1281.3 437.8,1281.4 441,1281.5 444.2,1281.7 447.4,1281.6 450.6,1281.8 453.8,1281.8 457,1281.8 460,1281.8 463.1,1281.8 466.1,1281.7 469.2,1281.7 472.2,1281.7 475.3,1281.8 478.3,1281.9 481.4,1281.7 484.4,1281.7 487.5,1281.9 490.5,1281.8 493.6,1281.8 496.6,1281.7 499.7,1281.8 502.7,1281.9 505.8,1281.8 508.8,1281.8 511.9,1281.7 514.9,1281.9 518,1281.7 521,1281.8 524.2,1281.7 527.4,1281.7 530.6,1281.4 533.8,1281.5 537,1281.4 540.2,1281.2 543.4,1281.2 546.6,1280.9 549.8,1280.9 553,1280.7 556.2,1280.8 559.4,1280.6 565,1280.3 568.8,1280.2 572.7,1280.2 576.5,1280.2 578.4,1279.7 585.2,1278.4 591.9,1277.6 595.7,1277.3 599.5,1277.8 603.9,1278.2 608.2,1278.4 613,1279.7 615.4,1281.1 622.6,1281.3" fill="none" stroke="#000" stroke-width="1.4" stroke-linejoin="round" stroke-linecap="butt" />
<polygon points="153.1,1108 153.1,1077.5 154.7,1075.8 154.9,1077 154.9,1108" fill="#000" stroke="#000" stroke-width="0.6" stroke-linejoin="round"/>
<line x1="150.8" y1="319.8" x2="150.8" y2="1057" stroke="#ff1a1a" stroke-width="2.0" stroke-dasharray="7.3 6.2"/>
<line x1="310.3" y1="319.8" x2="310.3" y2="795" stroke="#ff1a1a" stroke-width="2.0" stroke-dasharray="7.3 6.2"/>
<line x1="372.6" y1="319.8" x2="372.6" y2="577.5" stroke="#ff1a1a" stroke-width="2.0" stroke-dasharray="7.3 6.2"/>
<line x1="410.5" y1="319.8" x2="410.5" y2="341.5" stroke="#ff1a1a" stroke-width="2.0" stroke-dasharray="7.3 6.2"/>
<path d="M141.2,213.7 L143.9,213.7 L143.9,200.9 L141.9,200.9 C141.2,202.2 139.8,203.4 138,204.2 L138.1,206.3 C139.2,205.9 140.3,205.3 141.2,204.6 Z" fill="#000"/>
<text x="293" y="29.4" font-size="18" font-weight="bold" text-anchor="start" fill="#000"  style="">2</text>
<text x="370.9" y="77.3" font-size="18" font-weight="bold" text-anchor="start" fill="#000"  style="">3</text>
<text x="408.1" y="159.1" font-size="18" font-weight="bold" text-anchor="start" fill="#000"  style="">4</text>
<text x="329.4" y="23.3" font-size="17.4" font-weight="bold" fill="#000" textLength="275.2" lengthAdjust="spacingAndGlyphs"><tspan font-style="italic">Clinacanthus nutans</tspan> leaf extract</text>
<text x="419.5" y="479.4" font-size="16.7" font-weight="bold" text-anchor="start" fill="#000" transform="translate(419.5 0) scale(1.0788 1) translate(-419.5 0)" style="">Isovitexin</text>
<text x="419.5" y="500.1" font-size="16.7" font-weight="normal" text-anchor="start" fill="#000" transform="translate(419.5 0) scale(1.0817 1) translate(-419.5 0)" style="">(Apigenin 6-C-glucoside)</text>
<text x="406.7" y="713.5" font-size="16.7" font-weight="bold" text-anchor="start" fill="#000" transform="translate(406.7 0) scale(1.0711 1) translate(-406.7 0)" style="">Vitexin</text>
<text x="406.7" y="732.6" font-size="16.7" font-weight="normal" text-anchor="start" fill="#000" transform="translate(406.7 0) scale(1.0788 1) translate(-406.7 0)" style="">(Apigenin 8-C-glucoside)</text>
<text x="328.4" y="965.9" font-size="16.7" font-weight="bold" text-anchor="start" fill="#000" transform="translate(328.4 0) scale(1.0692 1) translate(-328.4 0)" style="">Schaftoside</text>
<text x="328.4" y="986.4" font-size="16.7" font-weight="normal" text-anchor="start" fill="#000" transform="translate(328.4 0) scale(1.0807 1) translate(-328.4 0)" style="">(Apigenin 8-C-glucoside-</text>
<text x="328.4" y="1007.6" font-size="16.7" font-weight="normal" text-anchor="start" fill="#000" transform="translate(328.4 0) scale(1.0702 1) translate(-328.4 0)" style="">6-C-arabinoside)</text>
<text x="193.3" y="1191.9" font-size="16.7" font-weight="bold" text-anchor="start" fill="#000" transform="translate(193.3 0) scale(1.0731 1) translate(-193.3 0)" style="">Isoschaftoside</text>
<text x="193.3" y="1212.2" font-size="16.7" font-weight="normal" text-anchor="start" fill="#000" transform="translate(193.3 0) scale(1.0769 1) translate(-193.3 0)" style="">(Apigenin 6-C-arabinoside-</text>
<text x="193.3" y="1233.3" font-size="16.7" font-weight="normal" text-anchor="start" fill="#000" transform="translate(193.3 0) scale(1.0731 1) translate(-193.3 0)" style="">8-C-glucoside)</text>
<text transform="translate(15.9,806.7) rotate(-90)" x="0" y="0" font-size="20.9" font-weight="bold" fill="#000" textLength="225.6" lengthAdjust="spacingAndGlyphs">Absorbance Unit (A.U.)</text>
</svg>
</body></html>
